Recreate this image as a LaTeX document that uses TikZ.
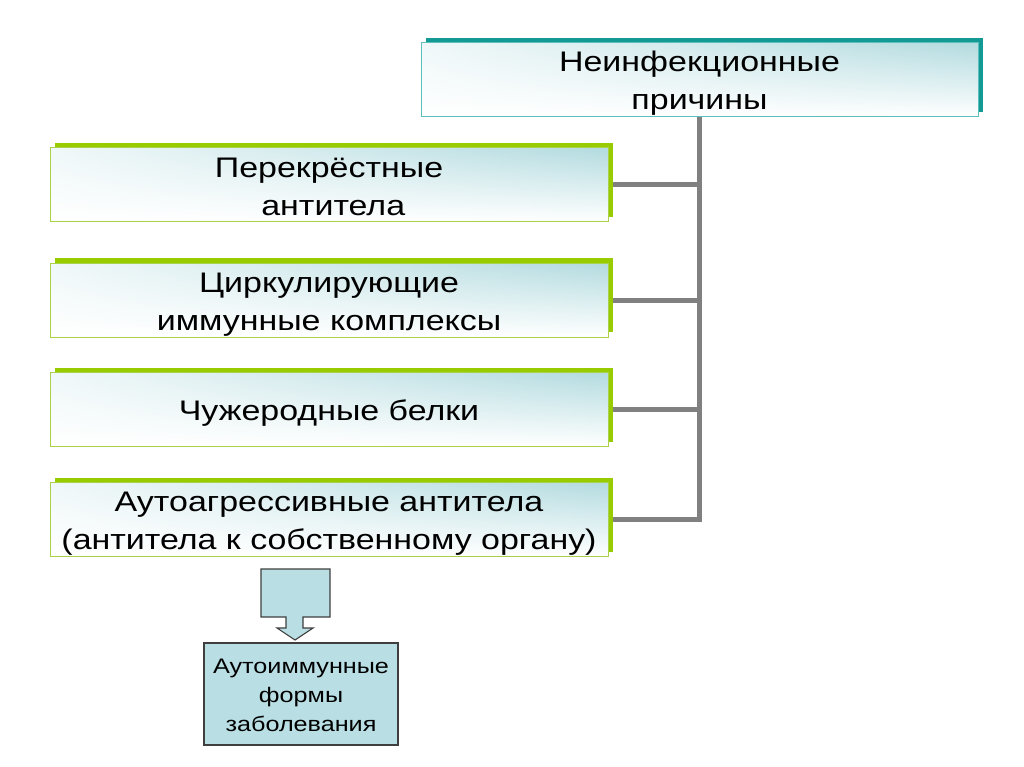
\documentclass[tikz,border=0pt]{standalone}
\usepackage{fontspec}
\setmainfont[FakeStretch=1.2]{Liberation Sans}
\usepackage{tikz}
\usetikzlibrary{shadows}
\usetikzlibrary{shadings}
\usetikzlibrary{backgrounds}

\definecolor{causeedge}{HTML}{149A94}
\definecolor{causeline}{HTML}{5CBFBC}
\definecolor{mechedge}{HTML}{99CC00}
\definecolor{mechline}{HTML}{A9D24A}
\definecolor{boxshade}{HTML}{B3DBDF}
\definecolor{linkgray}{HTML}{808080}
\definecolor{outfill}{HTML}{B9DFE4}
\definecolor{outline}{HTML}{3F3F3F}

% struts for the first line of a box
\newcommand{\mainstrut}{\rule{0pt}{28pt}}
\newcommand{\smallstrut}{\rule{0pt}{21pt}}

\begin{document}
\begin{tikzpicture}[x=1pt,y=-1pt,
	panel/.style={line width=1pt, minimum height=74pt, inner sep=0pt, align=center, font=\fontsize{28.3}{38}\selectfont, execute at end node={\rule[-6pt]{0pt}{6pt}}, upper left=boxshade!20, lower left=white, lower right=white, upper right=boxshade},
	cause/.style={panel, draw=causeline, minimum width=557pt, general shadow={fill=causeedge, shadow xshift=5pt, shadow yshift=5pt}},
	mechanism/.style={panel, draw=mechline, minimum width=558pt, general shadow={fill=mechedge, shadow xshift=5pt, shadow yshift=5pt}},
	outcome/.style={draw=outline, fill=outfill, line width=1.2pt, minimum width=194pt, minimum height=102pt, inner sep=0pt, align=center, font=\fontsize{21}{29}\selectfont, execute at end node={\rule[-4.4pt]{0pt}{4.4pt}}},
	callarrow/.style={draw=outline, fill=outfill, line width=1.1pt, line join=miter},
	link/.style={draw=linkgray, line width=5pt}]
	
	\useasboundingbox (0,0) rectangle (1024,767);
	
	\node[cause] (noninf) at (699.5,80) {\mainstrut Неинфекционные\\причины};
	
	\node[mechanism] (cross) at (329,185) {\mainstrut Перекрёстные\\\hspace*{0.3em}антитела};
	\node[mechanism] (complex) at (329,300) {\mainstrut Циркулирующие\\иммунные комплексы};
	\node[mechanism] (foreign) at (329,409.5) {\mainstrut Чужеродные белки};
	\node[mechanism] (autoab) at (329,519.5) {\mainstrut Аутоагрессивные антитела\\(антитела к собственному органу)};
	
	\node[outcome] (autoimm) at (301,694) {\smallstrut Аутоиммунные\\формы\\заболевания};
	
	% callout arrow
	\draw[callarrow] (261,569) -- (330,569) -- (330,617) -- (303,617) -- (303,628) -- (313,628) -- (295,640) -- (277,628) -- (286,628) -- (286,617) -- (261,617) -- cycle;
	
	\begin{scope}[on background layer]
		\draw[link] (autoab.east) -| (noninf.south);
		\foreach \n in {cross,complex,foreign}
			\draw[link] (\n.east) -- (\n.east -| noninf.south);
	\end{scope}
\end{tikzpicture}
\end{document}
